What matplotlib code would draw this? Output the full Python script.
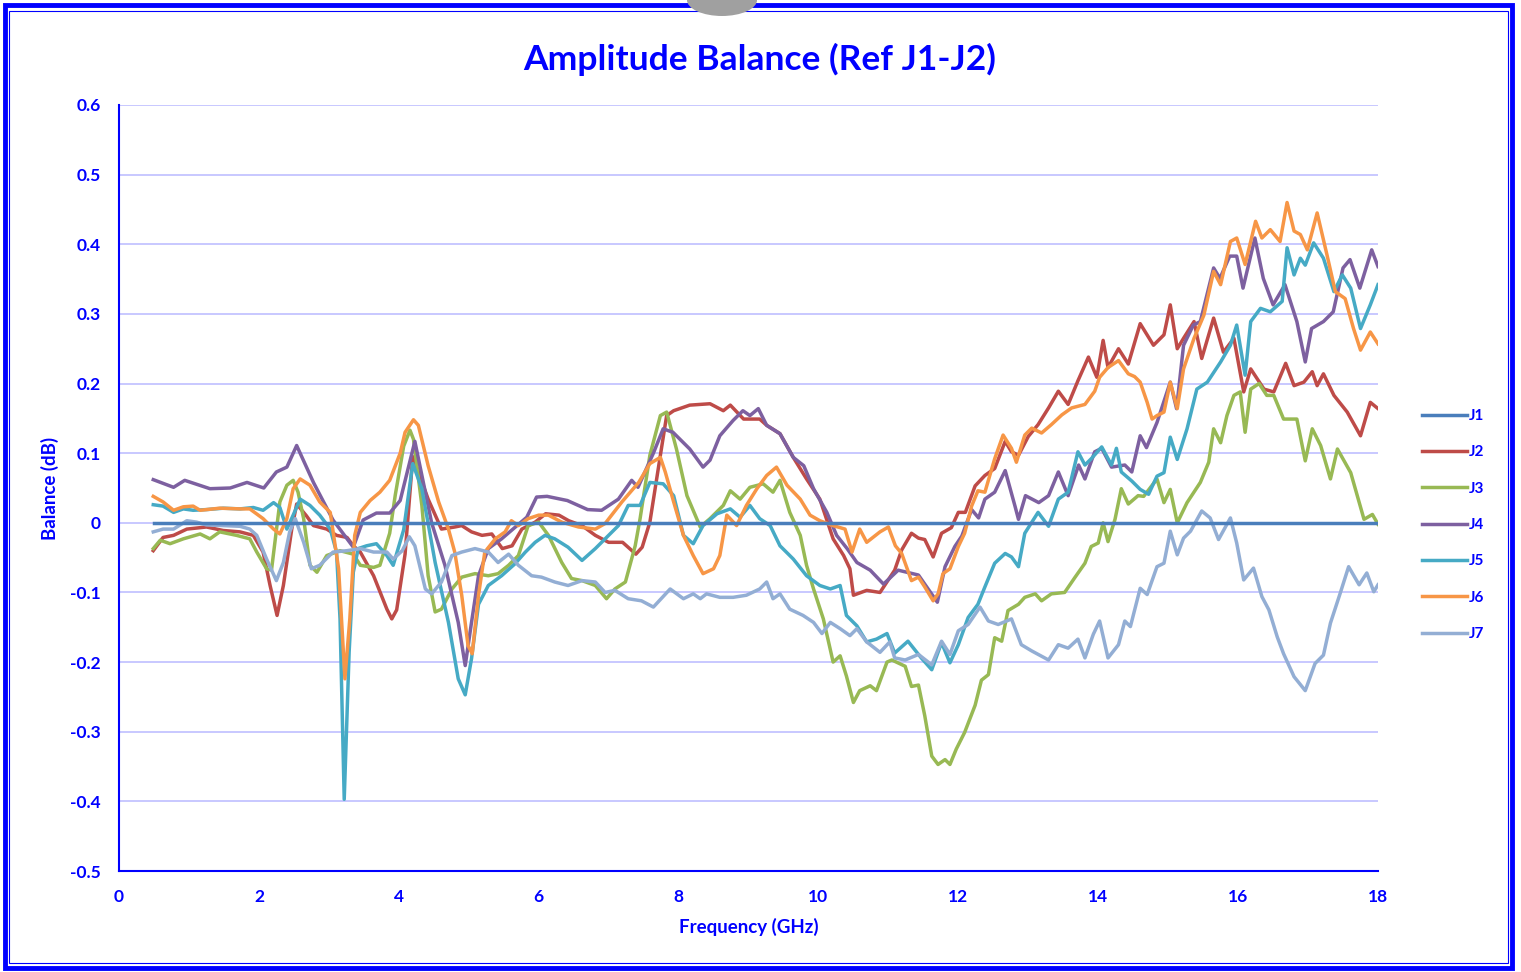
import matplotlib
matplotlib.use("Agg")
import matplotlib.pyplot as plt
from matplotlib.patches import Rectangle, Ellipse
from matplotlib.ticker import FuncFormatter

plt.rcParams['font.family'] = ['Lato', 'DejaVu Sans']

BLUE = '#0000FF'

# ---- data (Balance in dB vs frequency in GHz) ----
j1_freq = [0.5, 18.0]
j1_bal = [0.0, 0.0]

j2_freq = [0.49, 0.63, 0.78, 0.97, 1.25, 1.49, 1.73, 1.92, 2.06, 2.16, 2.26, 2.35, 2.47, 2.54, 2.68,
           2.78, 2.97, 3.11, 3.26, 3.35, 3.45, 3.64, 3.83, 3.9, 3.97, 4.09, 4.2, 4.42, 4.61, 4.8,
           4.9, 5.04, 5.19, 5.33, 5.48, 5.62, 5.76, 5.95, 6.1, 6.29, 6.43, 6.62, 6.81, 7.0, 7.2,
           7.39, 7.48, 7.59, 7.74, 7.83, 7.93, 8.16, 8.45, 8.64, 8.74, 8.93, 9.16, 9.26, 9.45, 9.64,
           9.83, 10.02, 10.21, 10.36, 10.45, 10.5, 10.69, 10.88, 11.09, 11.19, 11.33, 11.43, 11.52, 11.64, 11.76,
           11.9, 12.0, 12.1, 12.24, 12.38, 12.52, 12.67, 12.76, 12.86, 13.0, 13.14, 13.29, 13.43, 13.57, 13.71,
           13.86, 13.98, 14.07, 14.14, 14.29, 14.43, 14.6, 14.79, 14.94, 15.03, 15.13, 15.22, 15.37, 15.48, 15.65,
           15.79, 15.94, 16.08, 16.18, 16.37, 16.51, 16.68, 16.8, 16.94, 17.06, 17.13, 17.22, 17.37, 17.56, 17.75,
           17.89, 18.0]
j2_bal = [-0.04, -0.021, -0.018, -0.009, -0.006, -0.011, -0.013, -0.018, -0.042, -0.09, -0.133, -0.09, -0.009, 0.027, 0.01,
          -0.004, -0.009, -0.018, -0.021, -0.033, -0.042, -0.076, -0.124, -0.138, -0.125, -0.045, 0.095, 0.034, -0.009, -0.006,
          -0.004, -0.013, -0.018, -0.016, -0.037, -0.033, -0.009, 0.001, 0.013, 0.011, 0.003, -0.004, -0.018, -0.028, -0.028,
          -0.045, -0.035, 0.001, 0.097, 0.154, 0.161, 0.169, 0.171, 0.161, 0.169, 0.149, 0.149, 0.14, 0.128, 0.094,
          0.063, 0.034, -0.023, -0.047, -0.066, -0.104, -0.097, -0.1, -0.068, -0.039, -0.015, -0.022, -0.024, -0.049, -0.015,
          -0.007, 0.015, 0.015, 0.053, 0.068, 0.078, 0.117, 0.102, 0.097, 0.124, 0.141, 0.165, 0.189, 0.17, 0.204,
          0.238, 0.209, 0.262, 0.223, 0.25, 0.228, 0.286, 0.255, 0.27, 0.313, 0.25, 0.265, 0.289, 0.236, 0.294,
          0.245, 0.265, 0.188, 0.221, 0.192, 0.188, 0.229, 0.197, 0.202, 0.217, 0.197, 0.214, 0.183, 0.159, 0.125,
          0.173, 0.164]

j3_freq = [0.49, 0.59, 0.73, 0.92, 1.16, 1.3, 1.44, 1.68, 1.87, 1.97, 2.11, 2.18, 2.3, 2.4, 2.49,
           2.56, 2.64, 2.73, 2.83, 2.97, 3.16, 3.35, 3.45, 3.64, 3.73, 3.87, 3.95, 4.07, 4.16, 4.21,
           4.33, 4.42, 4.52, 4.61, 4.76, 4.9, 5.09, 5.28, 5.42, 5.57, 5.71, 5.85, 6.0, 6.14, 6.33,
           6.47, 6.62, 6.81, 6.97, 7.09, 7.24, 7.38, 7.45, 7.59, 7.74, 7.83, 7.97, 8.12, 8.31, 8.45,
           8.64, 8.74, 8.88, 9.02, 9.21, 9.35, 9.45, 9.59, 9.74, 9.83, 9.93, 10.07, 10.21, 10.31, 10.4,
           10.5, 10.59, 10.74, 10.83, 10.98, 11.05, 11.24, 11.33, 11.43, 11.52, 11.62, 11.71, 11.81, 11.88, 11.97,
           12.09, 12.24, 12.33, 12.43, 12.52, 12.62, 12.71, 12.86, 12.95, 13.1, 13.19, 13.33, 13.52, 13.67, 13.81,
           13.9, 14.0, 14.07, 14.14, 14.24, 14.33, 14.43, 14.57, 14.65, 14.84, 14.94, 15.03, 15.13, 15.27, 15.46,
           15.58, 15.65, 15.75, 15.84, 15.94, 16.03, 16.1, 16.18, 16.3, 16.41, 16.51, 16.65, 16.84, 16.96, 17.06,
           17.18, 17.32, 17.42, 17.61, 17.8, 17.92, 18.0]
j3_bal = [-0.037, -0.025, -0.03, -0.023, -0.016, -0.023, -0.013, -0.018, -0.023, -0.042, -0.066, -0.068, 0.03, 0.054, 0.061,
          0.044, 0.006, -0.061, -0.071, -0.047, -0.04, -0.045, -0.061, -0.064, -0.061, -0.015, 0.04, 0.11, 0.133, 0.12,
          0.025, -0.076, -0.128, -0.124, -0.095, -0.078, -0.073, -0.076, -0.073, -0.061, -0.047, -0.004, 0.001, -0.018, -0.057,
          -0.08, -0.083, -0.09, -0.109, -0.095, -0.085, -0.033, 0.006, 0.097, 0.154, 0.159, 0.106, 0.039, -0.006, 0.006,
          0.025, 0.046, 0.034, 0.051, 0.056, 0.044, 0.061, 0.015, -0.018, -0.061, -0.095, -0.138, -0.2, -0.191, -0.22,
          -0.258, -0.241, -0.234, -0.241, -0.2, -0.197, -0.206, -0.235, -0.233, -0.277, -0.335, -0.347, -0.34, -0.347, -0.325,
          -0.301, -0.262, -0.226, -0.218, -0.165, -0.17, -0.126, -0.117, -0.107, -0.102, -0.112, -0.102, -0.1, -0.078, -0.058,
          -0.034, -0.029, 0.0, -0.027, 0.005, 0.049, 0.027, 0.039, 0.038, 0.063, 0.029, 0.048, 0.0, 0.029, 0.058,
          0.087, 0.135, 0.115, 0.154, 0.183, 0.188, 0.13, 0.192, 0.2, 0.183, 0.183, 0.149, 0.149, 0.089, 0.135,
          0.111, 0.063, 0.106, 0.072, 0.005, 0.012, -0.002]

j4_freq = [0.49, 0.78, 0.94, 1.3, 1.59, 1.83, 2.07, 2.25, 2.4, 2.54, 2.78, 3.06, 3.35, 3.49, 3.68,
           3.87, 4.02, 4.23, 4.47, 4.66, 4.85, 4.95, 5.04, 5.14, 5.28, 5.47, 5.83, 5.97, 6.12, 6.41,
           6.7, 6.9, 7.14, 7.33, 7.42, 7.64, 7.78, 7.92, 8.16, 8.35, 8.45, 8.59, 8.78, 8.92, 9.02,
           9.14, 9.26, 9.45, 9.64, 9.79, 9.93, 10.12, 10.26, 10.41, 10.55, 10.74, 10.93, 11.14, 11.43, 11.7,
           11.81, 11.95, 12.05, 12.19, 12.29, 12.38, 12.52, 12.67, 12.81, 12.86, 12.96, 13.15, 13.29, 13.43, 13.57,
           13.72, 13.81, 13.95, 14.05, 14.19, 14.38, 14.48, 14.6, 14.69, 14.84, 15.03, 15.12, 15.22, 15.36, 15.46,
           15.65, 15.74, 15.88, 15.98, 16.07, 16.24, 16.36, 16.5, 16.67, 16.84, 16.96, 17.05, 17.22, 17.36, 17.5,
           17.6, 17.74, 17.91, 18.0]
j4_bal = [0.062, 0.051, 0.061, 0.049, 0.05, 0.058, 0.05, 0.073, 0.08, 0.111, 0.058, 0.004, -0.035, 0.004, 0.014,
          0.014, 0.032, 0.117, 0.0, -0.061, -0.143, -0.205, -0.143, -0.076, -0.037, -0.023, 0.008, 0.037, 0.038, 0.032,
          0.019, 0.018, 0.034, 0.061, 0.051, 0.1, 0.135, 0.13, 0.106, 0.08, 0.09, 0.125, 0.147, 0.161, 0.154,
          0.164, 0.14, 0.128, 0.094, 0.082, 0.049, 0.015, -0.018, -0.037, -0.057, -0.068, -0.088, -0.068, -0.075, -0.114,
          -0.063, -0.034, -0.019, 0.019, 0.007, 0.034, 0.044, 0.075, 0.024, 0.005, 0.039, 0.029, 0.039, 0.073, 0.039,
          0.083, 0.063, 0.102, 0.107, 0.08, 0.083, 0.073, 0.125, 0.108, 0.144, 0.202, 0.164, 0.255, 0.284, 0.289,
          0.366, 0.351, 0.383, 0.383, 0.337, 0.409, 0.351, 0.313, 0.342, 0.289, 0.231, 0.279, 0.289, 0.303, 0.366,
          0.378, 0.337, 0.392, 0.368]

j5_freq = [0.49, 0.63, 0.78, 0.92, 1.06, 1.25, 1.49, 1.73, 1.92, 2.06, 2.21, 2.3, 2.4, 2.49, 2.59,
           2.73, 2.87, 3.02, 3.11, 3.16, 3.22, 3.29, 3.35, 3.42, 3.54, 3.68, 3.83, 3.92, 4.07, 4.2,
           4.33, 4.52, 4.71, 4.85, 4.95, 5.04, 5.14, 5.28, 5.47, 5.66, 5.81, 5.95, 6.09, 6.23, 6.42,
           6.62, 6.81, 7.0, 7.14, 7.28, 7.45, 7.59, 7.78, 7.93, 8.07, 8.21, 8.35, 8.55, 8.74, 8.88,
           9.02, 9.16, 9.31, 9.45, 9.64, 9.83, 10.02, 10.17, 10.31, 10.4, 10.55, 10.69, 10.83, 10.98, 11.09,
           11.28, 11.47, 11.62, 11.76, 11.88, 12.0, 12.14, 12.28, 12.38, 12.52, 12.67, 12.76, 12.86, 12.95, 13.14,
           13.29, 13.43, 13.57, 13.71, 13.81, 13.9, 14.05, 14.19, 14.26, 14.33, 14.48, 14.6, 14.72, 14.84, 14.94,
           15.03, 15.13, 15.27, 15.41, 15.56, 15.75, 15.89, 15.98, 16.1, 16.18, 16.32, 16.46, 16.63, 16.7, 16.8,
           16.89, 16.96, 17.08, 17.22, 17.37, 17.49, 17.61, 17.75, 17.89, 18.0]
j5_bal = [0.026, 0.024, 0.015, 0.02, 0.018, 0.019, 0.021, 0.02, 0.022, 0.018, 0.029, 0.022, -0.009, 0.011, 0.034,
          0.025, 0.011, -0.009, -0.042, -0.138, -0.397, -0.186, -0.071, -0.037, -0.033, -0.03, -0.047, -0.061, -0.01, 0.085,
          0.049, -0.057, -0.143, -0.224, -0.247, -0.195, -0.117, -0.09, -0.076, -0.059, -0.042, -0.028, -0.018, -0.023, -0.035,
          -0.054, -0.037, -0.018, -0.004, 0.025, 0.025, 0.058, 0.056, 0.039, -0.018, -0.03, -0.004, 0.013, 0.02, 0.008,
          0.025, 0.006, -0.004, -0.033, -0.052, -0.076, -0.09, -0.095, -0.09, -0.133, -0.148, -0.171, -0.167, -0.159, -0.187,
          -0.17, -0.194, -0.211, -0.172, -0.201, -0.175, -0.136, -0.117, -0.092, -0.058, -0.044, -0.049, -0.063, -0.015, 0.015,
          -0.005, 0.034, 0.044, 0.102, 0.083, 0.092, 0.109, 0.083, 0.107, 0.073, 0.06, 0.048, 0.041, 0.067, 0.072,
          0.123, 0.091, 0.135, 0.192, 0.202, 0.231, 0.255, 0.284, 0.212, 0.289, 0.308, 0.303, 0.318, 0.395, 0.356,
          0.38, 0.37, 0.402, 0.38, 0.332, 0.356, 0.337, 0.279, 0.313, 0.342]

j6_freq = [0.49, 0.63, 0.78, 0.92, 1.06, 1.16, 1.44, 1.73, 1.87, 2.06, 2.21, 2.3, 2.4, 2.49, 2.59,
           2.73, 2.87, 3.02, 3.14, 3.23, 3.3, 3.37, 3.45, 3.59, 3.73, 3.87, 4.02, 4.09, 4.21, 4.28,
           4.42, 4.57, 4.71, 4.8, 4.9, 4.99, 5.05, 5.14, 5.23, 5.38, 5.52, 5.61, 5.71, 5.85, 6.0,
           6.14, 6.33, 6.57, 6.81, 6.95, 7.19, 7.43, 7.59, 7.74, 7.81, 7.93, 8.07, 8.21, 8.35, 8.5,
           8.59, 8.69, 8.83, 8.97, 9.12, 9.26, 9.4, 9.55, 9.74, 9.88, 10.02, 10.21, 10.38, 10.48, 10.59,
           10.69, 10.88, 11.0, 11.1, 11.19, 11.33, 11.43, 11.52, 11.64, 11.71, 11.78, 11.88, 12.0, 12.09, 12.19,
           12.28, 12.38, 12.52, 12.64, 12.76, 12.83, 12.95, 13.05, 13.19, 13.33, 13.48, 13.62, 13.81, 13.95, 14.02,
           14.14, 14.29, 14.43, 14.52, 14.6, 14.7, 14.77, 14.84, 14.94, 15.03, 15.13, 15.22, 15.37, 15.51, 15.65,
           15.75, 15.89, 15.98, 16.1, 16.25, 16.34, 16.46, 16.6, 16.7, 16.8, 16.89, 16.99, 17.13, 17.27, 17.39,
           17.53, 17.65, 17.75, 17.89, 18.0]
j6_bal = [0.038, 0.03, 0.018, 0.023, 0.024, 0.018, 0.021, 0.02, 0.02, 0.006, -0.009, -0.016, 0.006, 0.049, 0.063,
          0.054, 0.03, 0.015, -0.066, -0.224, -0.138, -0.018, 0.015, 0.032, 0.044, 0.061, 0.1, 0.13, 0.148, 0.14,
          0.082, 0.03, -0.009, -0.042, -0.104, -0.176, -0.188, -0.104, -0.042, -0.023, -0.013, 0.003, -0.004, 0.006, 0.011,
          0.011, 0.001, -0.006, -0.009, -0.001, 0.03, 0.058, 0.085, 0.094, 0.073, 0.03, -0.018, -0.047, -0.073, -0.066,
          -0.047, 0.011, -0.004, 0.025, 0.049, 0.068, 0.08, 0.054, 0.034, 0.011, 0.003, -0.004, -0.009, -0.042, -0.009,
          -0.028, -0.013, -0.006, -0.033, -0.044, -0.083, -0.078, -0.092, -0.112, -0.102, -0.073, -0.066, -0.034, -0.015, 0.024,
          0.046, 0.044, 0.092, 0.126, 0.107, 0.087, 0.126, 0.136, 0.129, 0.141, 0.155, 0.165, 0.17, 0.189, 0.209,
          0.223, 0.233, 0.214, 0.21, 0.202, 0.173, 0.149, 0.154, 0.159, 0.202, 0.164, 0.221, 0.265, 0.298, 0.361,
          0.342, 0.404, 0.409, 0.371, 0.433, 0.409, 0.421, 0.404, 0.46, 0.419, 0.414, 0.392, 0.445, 0.385, 0.332,
          0.322, 0.279, 0.248, 0.274, 0.257]

j7_freq = [0.49, 0.63, 0.78, 0.97, 1.11, 1.25, 1.49, 1.73, 1.87, 1.97, 2.11, 2.25, 2.35, 2.44, 2.52,
           2.64, 2.75, 2.87, 3.06, 3.26, 3.45, 3.64, 3.83, 3.92, 4.05, 4.15, 4.23, 4.38, 4.47, 4.61,
           4.76, 4.9, 5.09, 5.28, 5.42, 5.57, 5.71, 5.9, 6.04, 6.23, 6.42, 6.62, 6.81, 6.95, 7.09,
           7.28, 7.47, 7.64, 7.88, 8.07, 8.21, 8.31, 8.4, 8.59, 8.78, 8.97, 9.16, 9.26, 9.35, 9.45,
           9.59, 9.78, 9.93, 10.05, 10.17, 10.31, 10.45, 10.55, 10.69, 10.88, 11.02, 11.09, 11.24, 11.43, 11.62,
           11.76, 11.88, 12.0, 12.14, 12.31, 12.43, 12.57, 12.76, 12.9, 13.05, 13.29, 13.43, 13.57, 13.71, 13.81,
           13.93, 14.02, 14.14, 14.29, 14.38, 14.46, 14.6, 14.7, 14.84, 14.94, 15.03, 15.13, 15.22, 15.32, 15.48,
           15.6, 15.72, 15.89, 15.98, 16.08, 16.22, 16.34, 16.44, 16.56, 16.65, 16.8, 16.96, 17.1, 17.22, 17.32,
           17.46, 17.58, 17.73, 17.84, 17.94, 18.0]
j7_bal = [-0.013, -0.009, -0.009, 0.003, 0.001, -0.003, -0.004, -0.005, -0.009, -0.018, -0.052, -0.083, -0.057, -0.013, 0.006,
          -0.028, -0.066, -0.061, -0.042, -0.04, -0.037, -0.042, -0.042, -0.052, -0.04, -0.02, -0.033, -0.095, -0.102, -0.085,
          -0.047, -0.042, -0.037, -0.042, -0.057, -0.045, -0.061, -0.076, -0.078, -0.085, -0.09, -0.083, -0.085, -0.1, -0.097,
          -0.109, -0.112, -0.121, -0.095, -0.109, -0.102, -0.109, -0.102, -0.107, -0.107, -0.104, -0.095, -0.085, -0.109, -0.102,
          -0.124, -0.133, -0.143, -0.159, -0.143, -0.152, -0.162, -0.152, -0.171, -0.186, -0.171, -0.194, -0.197, -0.189, -0.204,
          -0.17, -0.189, -0.155, -0.146, -0.121, -0.141, -0.146, -0.138, -0.175, -0.184, -0.197, -0.175, -0.18, -0.167, -0.194,
          -0.16, -0.141, -0.194, -0.175, -0.141, -0.149, -0.094, -0.103, -0.063, -0.058, -0.012, -0.046, -0.022, -0.012, 0.017,
          0.007, -0.024, 0.007, -0.029, -0.082, -0.065, -0.106, -0.125, -0.164, -0.188, -0.221, -0.241, -0.202, -0.19, -0.144,
          -0.101, -0.063, -0.089, -0.072, -0.099, -0.089]

labels = ['J1', 'J2', 'J3', 'J4', 'J5', 'J6', 'J7']
colors = ['#4A7EBB', '#BE4B48', '#98B954', '#7D60A0', '#46AAC5', '#F79646', '#93AED4']

series = [(j1_freq, j1_bal), (j2_freq, j2_bal), (j3_freq, j3_bal), (j4_freq, j4_bal),
          (j5_freq, j5_bal), (j6_freq, j6_bal), (j7_freq, j7_bal)]

fig = plt.figure(figsize=(15.21, 9.72), dpi=100)
ax = fig.add_axes([119 / 1521, 1 - 871 / 972, (1378 - 119) / 1521, (871 - 105) / 972])

handles = []
for i, ((f, b), lab, col) in enumerate(zip(series, labels, colors)):
    z = 10 if i == 0 else 3 + i * 0.1
    ln, = ax.plot(f, b, color=col, lw=2.5, label=lab, zorder=z, solid_joinstyle='round')
    handles.append(ln)

ax.set_xlim(0, 18)
ax.set_ylim(-0.5, 0.6)
ax.set_xticks(range(0, 19, 2))
ax.set_yticks([round(-0.5 + 0.1 * k, 1) for k in range(12)])
ax.yaxis.set_major_formatter(FuncFormatter(lambda v, p: '0' if abs(v) < 1e-9 else f'{v:.1f}'))

ax.grid(axis='y', color='#C8C8FF', lw=1.4, zorder=0)
for s in ['top', 'right']:
    ax.spines[s].set_visible(False)
for s in ['left', 'bottom']:
    ax.spines[s].set_color(BLUE)
    ax.spines[s].set_linewidth(1.5)
ax.tick_params(axis='both', length=0, colors=BLUE, labelsize=12.5)
ax.tick_params(axis='y', pad=13)
ax.tick_params(axis='x', pad=13)
for t in ax.get_xticklabels() + ax.get_yticklabels():
    t.set_fontweight('bold')

ax.set_title('Amplitude Balance (Ref J1-J2)', color=BLUE, fontsize=25.5, fontweight='bold', pad=25, x=0.509)
ax.set_xlabel('Frequency (GHz)', color=BLUE, fontsize=13.5, fontweight='bold', labelpad=9)
ax.set_ylabel('Balance (dB)', color=BLUE, fontsize=13.5, fontweight='bold', labelpad=8)

leg = fig.legend(handles=handles, loc='center left', bbox_to_anchor=(1408 / 1521, 1 - 525 / 972),
                 frameon=False, handlelength=2.95, handletextpad=0.15, labelspacing=1.46,
                 prop={'weight': 'bold', 'size': 11})
for t in leg.get_texts():
    t.set_color(BLUE)

# blue frame around the chart area
fig.patches.append(Rectangle((5 / 1521, 4 / 972), 1507 / 1521, 963 / 972, transform=fig.transFigure,
                             fill=False, ec=BLUE, lw=3.5))
fig.patches.append(Rectangle((9 / 1521, 9 / 972), 1499 / 1521, 952 / 972, transform=fig.transFigure,
                             fill=False, ec=BLUE, lw=0.8))
fig.patches.append(Ellipse((722 / 1521, 1.0), 70 / 1521, 32 / 972, transform=fig.transFigure,
                           fc='#A0A0A0', ec='none'))

fig.savefig('out.png', dpi=100)
